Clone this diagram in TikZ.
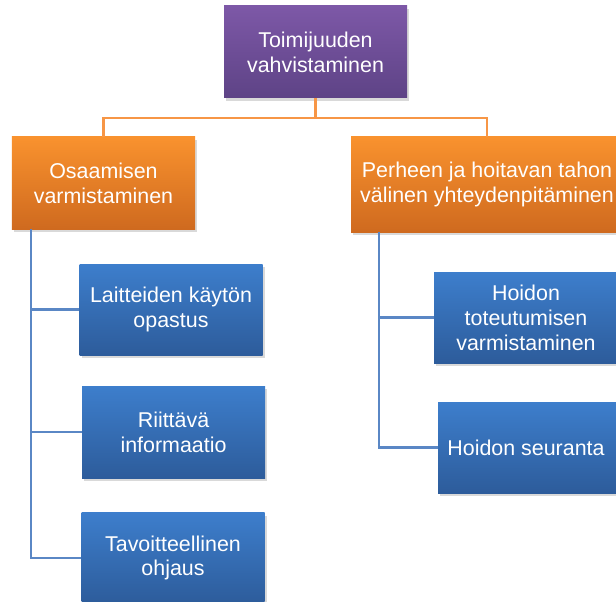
\documentclass[tikz,border=0pt]{standalone}
\usepackage{fontspec}
\setmainfont{Liberation Sans}
\usetikzlibrary{shadows}
\definecolor{tpurpleT}{HTML}{7D58A7}
\definecolor{tpurpleB}{HTML}{5E4386}
\definecolor{torangeT}{HTML}{F9922E}
\definecolor{torangeB}{HTML}{CF6A1F}
\definecolor{tblueT}{HTML}{3D7ECC}
\definecolor{tblueB}{HTML}{2D5C9B}
\definecolor{tolink}{HTML}{F79646}
\definecolor{tblink}{HTML}{5A87C5}

\begin{document}
\begin{tikzpicture}[x=1bp, y=-1bp, font=\fontsize{21.5}{25}\selectfont,
  bx/.style={minimum width=183bp, minimum height=92bp, align=center, text=white, inner sep=2bp,
    drop shadow={shadow xshift=2bp, shadow yshift=-3bp, opacity=0.3}},
  pu/.style={bx, top color=tpurpleT, bottom color=tpurpleB},
  og/.style={bx, top color=torangeT, bottom color=torangeB},
  bu/.style={bx, top color=tblueT, bottom color=tblueB},
  ol/.style={draw=tolink, line width=2.4bp},
  bl/.style={draw=tblink, line width=2.4bp}]
\useasboundingbox (0,0) rectangle (616,602);

% --- top and second level ---
\node[pu] (toim) at (315.5,52) {Toimijuuden\\vahvistaminen};
\node[og] (osaa) at (103.5,183) {Osaamisen\\varmistaminen};
\node[og, minimum width=272bp, minimum height=95bp] (perh) at (487,184.5)
  {Perheen ja hoitavan tahon\\välinen yhteydenpitäminen};

% --- left branch ---
\node[bu, minimum height=91bp] (lait) at (171,309.5) {Laitteiden käytön\\opastus};
\node[bu] (riit) at (173.5,432) {Riittävä\\informaatio};
\node[bu, minimum height=91bp] (tavo) at (173,558) {Tavoitteellinen\\ohjaus};

% --- right branch ---
\node[bu, minimum width=184bp, minimum height=91bp] (toteu) at (526,317.5)
  {Hoidon\\toteutumisen\\varmistaminen\hspace{8bp}};
\node[bu, minimum width=184bp, minimum height=91bp] (seur) at (530,447.5) {Hoidon seuranta\hspace{8bp}};

% connectors
\draw[ol] (toim.south) -- ++(0,20) -| (osaa.north);
\draw[ol] (toim.south) -- ++(0,20) -| (perh.north);
\draw[bl] ([xshift=19bp]osaa.south west) |- (lait.west);
\draw[bl] ([xshift=19bp]osaa.south west) |- (riit.west);
\draw[bl] ([xshift=19bp]osaa.south west) |- (tavo.west);
\draw[bl] ([xshift=28bp]perh.south west) |- (toteu.west);
\draw[bl] ([xshift=28bp]perh.south west) |- (seur.west);
\end{tikzpicture}
\end{document}
